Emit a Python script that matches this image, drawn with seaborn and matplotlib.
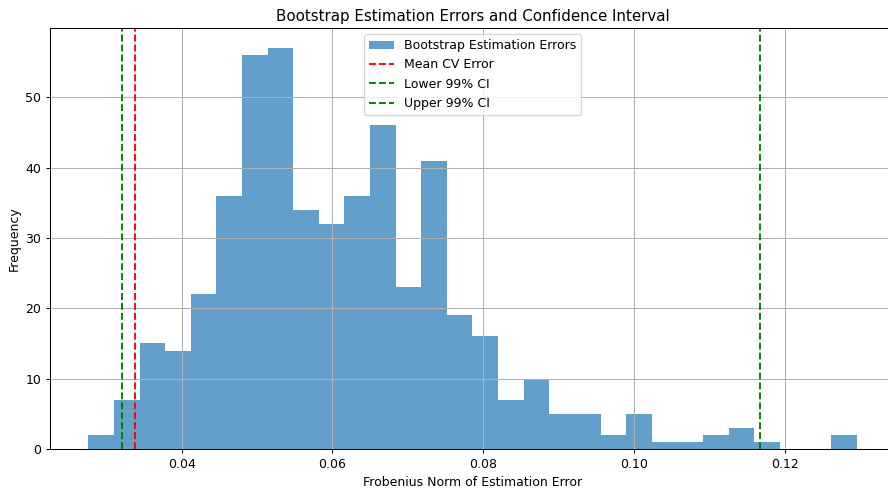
import matplotlib
matplotlib.use("Agg")
import matplotlib.pyplot as plt
import numpy as np
import pandas as pd
import seaborn as sns

# histogram counts (30 bins)
counts = [2, 7, 15, 14, 22, 36, 56, 57, 34, 32, 36, 46, 23, 41, 19,
          16, 7, 10, 5, 5, 2, 5, 1, 1, 2, 3, 1, 0, 0, 2]
err_min = 0.02764
err_max = 0.1295
mean_cv_error = 0.03387
lower_ci = 0.03205
upper_ci = 0.11669

edges = np.linspace(err_min, err_max, len(counts) + 1)
df = pd.DataFrame({
    "error": (edges[:-1] + edges[1:]) / 2,
    "count": counts,
})

dpi = 90
fig = plt.figure(figsize=(888 / dpi, 488 / dpi), dpi=dpi)
ax = fig.add_axes([50 / 888, 1 - 449 / 488, 845 / 888, 421 / 488])

sns.histplot(data=df, x="error", weights="count", bins=list(edges),
             element="step", fill=True, color="#1f77b4", alpha=0.7,
             linewidth=0, label="Bootstrap Estimation Errors", ax=ax)
ax.axvline(mean_cv_error, color="r", linestyle="--", label="Mean CV Error")
ax.axvline(lower_ci, color="g", linestyle="--", label="Lower 99% CI")
ax.axvline(upper_ci, color="g", linestyle="--", label="Upper 99% CI")

ax.set_title("Bootstrap Estimation Errors and Confidence Interval")
ax.set_xlabel("Frobenius Norm of Estimation Error")
ax.set_ylabel("Frequency")
ax.set_yticks([0, 10, 20, 30, 40, 50])
ax.grid(True)
ax.legend(loc="upper center")

fig.savefig("out.png", dpi=dpi)
